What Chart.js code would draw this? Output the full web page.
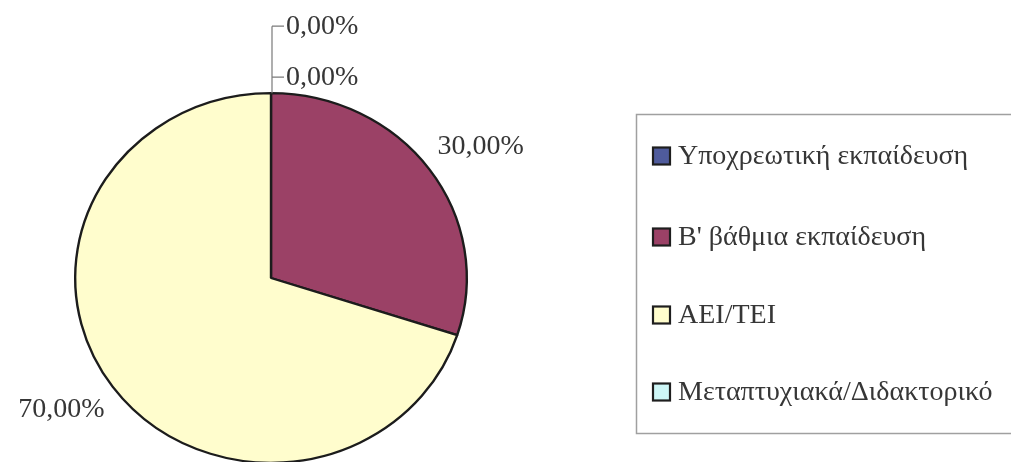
<!DOCTYPE html>
<html>
<head>
<meta charset="utf-8">
<script src="https://cdn.jsdelivr.net/npm/chart.js@4"></script>
<style>
  html, body { margin: 0; padding: 0; background: #ffffff; overflow: hidden; }
  #wrap { width: 1011px; height: 462px; overflow: hidden; position: relative; }
  canvas { display: block; }
</style>
</head>
<body>
<div id="wrap"><canvas id="pie" width="1011" height="480"></canvas></div>
<script>
// Education level categories and their shares
const categories = [
  'Υποχρεωτική εκπαίδευση',
  'Β\' βάθμια εκπαίδευση',
  'ΑΕΙ/ΤΕΙ',
  'Μεταπτυχιακά/Διδακτορικό'
];
const shares = [0, 30, 70, 0];
const sliceColors = ['#4f5b9c', '#9b4166', '#fffdcd', '#cdf6f6'];

const FONT = '"Liberation Serif", "Times New Roman", serif';
const TEXT_COLOR = '#363636';
const SQUASH = 185 / 196;   // vertical / horizontal radius of the pie

function fmtPct(v, total) {
  return (v / total * 100).toFixed(2).replace('.', ',') + '%';
}

// Draw the pie as a slightly flattened ellipse
const ellipsePlugin = {
  id: 'ellipse',
  beforeDatasetsDraw(chart) {
    const arc = chart.getDatasetMeta(0).data[0];
    const ctx = chart.ctx;
    ctx.save();
    ctx.translate(arc.x, arc.y);
    ctx.scale(1, SQUASH);
    ctx.translate(-arc.x, -arc.y);
  },
  afterDatasetsDraw(chart) {
    chart.ctx.restore();
  }
};

// Percentage labels, with leader lines for the empty slices
const labelPlugin = {
  id: 'pctLabels',
  afterDatasetsDraw(chart) {
    const ctx = chart.ctx;
    const meta = chart.getDatasetMeta(0);
    const data = chart.data.datasets[0].data;
    const total = data.reduce((a, b) => a + b, 0);
    ctx.save();
    ctx.font = '28px ' + FONT;
    ctx.fillStyle = TEXT_COLOR;
    ctx.textBaseline = 'middle';
    const zeros = [];
    meta.data.forEach((arc, i) => {
      const p = arc.getProps(['x', 'y', 'startAngle', 'endAngle', 'outerRadius'], true);
      const rx = p.outerRadius, ry = p.outerRadius * SQUASH;
      if (data[i] === 0) { zeros.push({ i, p, rx, ry }); return; }
      const mid = (p.startAngle + p.endAngle) / 2;
      const dx = Math.cos(mid), dy = Math.sin(mid);
      const x = p.x + dx * (rx + 10);
      const y = p.y + dy * (ry + 22) + (dy > 0 ? 10 : -10);
      ctx.textAlign = dx >= 0 ? 'left' : 'right';
      ctx.fillText(fmtPct(data[i], total), x, y);
    });
    if (zeros.length) {
      const p = zeros[0].p;
      const top = p.y - zeros[0].ry;
      const xs = p.x + 1;
      const ys = zeros.slice().reverse().map((z, j) => top - 16 - j * 51);
      ctx.strokeStyle = '#7a7a7a';
      ctx.lineWidth = 1.2;
      ctx.beginPath();
      ctx.moveTo(xs, top);
      ctx.lineTo(xs, Math.min(...ys));
      ys.forEach(y => { ctx.moveTo(xs, y); ctx.lineTo(xs + 12, y); });
      ctx.stroke();
      ctx.textAlign = 'left';
      zeros.slice().reverse().forEach((z, j) => {
        ctx.fillText(fmtPct(data[z.i], total), xs + 14, ys[j]);
      });
    }
    ctx.restore();
  }
};

// Framed legend on the right
const legendPlugin = {
  id: 'boxLegend',
  afterDraw(chart) {
    const ctx = chart.ctx;
    const labels = chart.data.labels;
    const colors = chart.data.datasets[0].backgroundColor;
    const rows = [156, 237, 315, 392];
    ctx.save();
    ctx.strokeStyle = '#a0a0a0';
    ctx.lineWidth = 1.5;
    ctx.strokeRect(636.5, 114.5, 420, 319);
    ctx.font = '28px ' + FONT;
    ctx.textBaseline = 'middle';
    ctx.textAlign = 'left';
    labels.forEach((lab, i) => {
      const y = rows[i];
      ctx.fillStyle = colors[i];
      ctx.fillRect(653, y - 8.5, 17, 17);
      ctx.strokeStyle = '#1e1e1e';
      ctx.lineWidth = 2.2;
      ctx.strokeRect(653, y - 8.5, 17, 17);
      ctx.fillStyle = TEXT_COLOR;
      ctx.fillText(lab, 678, y + 1);
    });
    ctx.restore();
  }
};

new Chart(document.getElementById('pie'), {
  type: 'pie',
  data: {
    labels: categories,
    datasets: [{
      data: shares,
      backgroundColor: sliceColors,
      borderColor: '#1c1c1c',
      borderWidth: 2.4,
      borderAlign: 'center'
    }]
  },
  options: {
    responsive: false,
    animation: false,
    layout: { padding: { left: 74, top: 81, right: 543, bottom: 5 } },
    plugins: {
      legend: { display: false },
      tooltip: { enabled: false }
    }
  },
  plugins: [ellipsePlugin, labelPlugin, legendPlugin]
});
</script>
</body>
</html>
